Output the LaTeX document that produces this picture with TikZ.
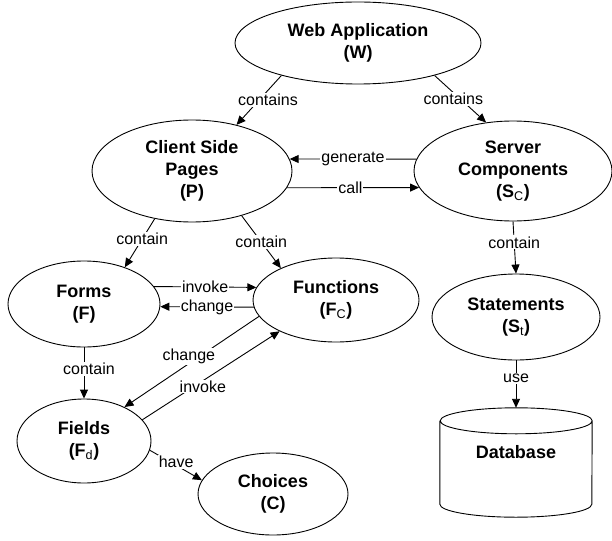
\documentclass[tikz,border=0pt]{standalone}
\usepackage{fontspec}
\setmainfont{Liberation Sans}
\usetikzlibrary{shapes.geometric,arrows.meta}
\newcommand{\lowsub}[1]{\textsubscript{\mdseries #1}}
\tikzset{
  entity/.style={ellipse, draw, line width=0.9pt, inner sep=0pt, align=center,
    font=\fontsize{18}{22}\selectfont\bfseries},
  rel/.style={line width=0.9pt, -{Triangle[length=9pt,width=8pt]}},
  lbl/.style={fill=white, inner sep=1pt, font=\fontsize{16}{18}\selectfont}
}
\begin{document}
\begin{tikzpicture}[x=1pt,y=-1pt]
    \useasboundingbox (0,0) rectangle (612,540);
    \node[entity, minimum width=246pt, minimum height=82pt] (W) at (358,43) {Web Application\\(W)};
    \node[entity, minimum width=200pt, minimum height=102pt] (P) at (192,171) {Client Side\\Pages\\(P)};
    \node[entity, minimum width=198pt, minimum height=100pt] (S) at (513,171) {Server\\Components\\(S\lowsub{C})};
    \node[entity, minimum width=152pt, minimum height=86pt] (F) at (84,304) {Forms\\(F)};
    \node[entity, minimum width=166pt, minimum height=84pt] (Fc) at (336,300) {Functions\\(F\lowsub{C})};
    \node[entity, minimum width=168pt, minimum height=86pt] (St) at (516,317) {Statements\\(S\lowsub{t})};
    \node[entity, minimum width=134pt, minimum height=84pt] (Fd) at (84,441) {Fields\\(F\lowsub{d})};
    \node[entity, minimum width=150pt, minimum height=82pt] (C) at (273,494) {Choices\\(C)};
    \node[minimum width=152pt, minimum height=109pt, text depth=21pt,
      font=\fontsize{18}{22}\selectfont\bfseries] (db) at (516,462.5) {Database};
    % database drum
    \draw[line width=0.9pt] ([yshift=-13pt]db.north west) -- ([yshift=13pt]db.south west)
      arc[start angle=180, end angle=360, x radius=76pt, y radius=13pt]
      -- ([yshift=-13pt]db.north east)
      arc[start angle=0, end angle=360, x radius=76pt, y radius=13pt];
    \draw[rel] (W.203) -- node[lbl, xshift=9pt] {contains} (P.46);
    \draw[rel] (W.337) -- node[lbl, xshift=-7pt] {contains} (S.119);
    \draw[rel] (S.173) -- node[lbl] {generate} (P.7);
    \draw[rel] (P.350) -- node[lbl, pos=.48] {call} (S.190);
    \draw[rel] (P.232) -- node[lbl, pos=.42] {contain} (F.42);
    \draw[rel] (P.318) -- node[lbl] {contain} (Fc.150);
    \draw[rel] (F.14) -- node[lbl] {invoke} (Fc.171);
    \draw[rel] (Fc.185) -- node[lbl] {change} (F.358);
    \draw[rel] (F.south) -- node[lbl, pos=.42, xshift=5pt] {contain} (Fd.north);
    \draw[rel] (Fc.192) -- node[lbl, pos=.44, xshift=-11pt] {change} (Fd.40);
    \draw[rel] (Fd.20) -- node[lbl, pos=.375, xshift=9pt] {invoke} (Fc.209);
    \draw[rel] (Fd.352) -- node[lbl, pos=.39, xshift=6pt] {have} (C.169);
    \draw[rel] (S.south) -- node[lbl, pos=.4] {contain} (St.north);
    \draw[rel] (St.south) -- node[lbl, pos=.375] {use} (db.north);
\end{tikzpicture}
\end{document}
